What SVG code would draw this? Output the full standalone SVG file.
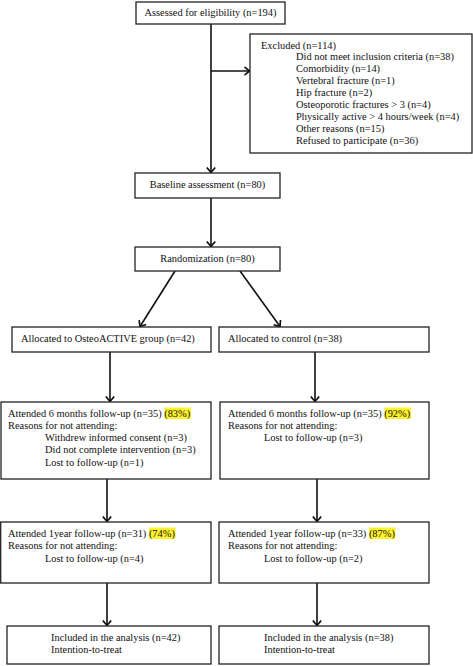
<svg xmlns="http://www.w3.org/2000/svg" width="473" height="666" viewBox="0 0 473 666">
<defs>
<marker id="arr" markerUnits="userSpaceOnUse" markerWidth="12" markerHeight="12" viewBox="-6 -6 12 12" refX="0" refY="0" orient="auto">
<path d="M-5,-4.2 L0,0 L-5,4.2" fill="none" stroke="#111" stroke-width="1.7"/>
</marker>
</defs>
<style>
.box{fill:#fff;stroke:#222;stroke-width:1.3}
.t{font-family:"Liberation Serif","Times New Roman",serif;font-size:10.4px;fill:#111}
.m{text-anchor:middle}
.hl{fill:#fff22e}
.c{fill:none;stroke:#111;stroke-width:1.6;marker-end:url(#arr)}
</style>
<rect width="473" height="666" fill="#fff"/>
<g id="connectors">
<line class="c" x1="211" y1="24" x2="211" y2="172.5"/>
<line class="c" x1="211" y1="71" x2="249.5" y2="71"/>
<line class="c" x1="211" y1="198" x2="211" y2="246.5"/>
<line class="c" x1="175" y1="271" x2="140" y2="326.5"/>
<line class="c" x1="240" y1="271" x2="280" y2="326.5"/>
<line class="c" x1="110" y1="352" x2="110" y2="401.5"/>
<line class="c" x1="315" y1="352" x2="315" y2="401.5"/>
<line class="c" x1="107" y1="479" x2="107" y2="521.5"/>
<line class="c" x1="317" y1="479" x2="317" y2="521.5"/>
<line class="c" x1="107" y1="583" x2="107" y2="625.5"/>
<line class="c" x1="317" y1="583" x2="317" y2="625.5"/>
</g>
<g id="assessed">
<rect class="box" x="136" y="2" width="149" height="22"/>
<text class="t m" x="210.5" y="16">Assessed for eligibility (n=194)</text>
</g>
<g id="excluded">
<rect class="box" x="250" y="34" width="222" height="119"/>
<text class="t" x="261" y="48.5">Excluded (n=114)</text>
<text class="t" x="296" y="59.5">Did not meet inclusion criteria (n=38)</text>
<text class="t" x="296" y="71.6">Comorbidity (n=14)</text>
<text class="t" x="296" y="83.7">Vertebral fracture (n=1)</text>
<text class="t" x="296" y="95.8">Hip fracture (n=2)</text>
<text class="t" x="296" y="107.9">Osteoporotic fractures &gt; 3 (n=4)</text>
<text class="t" x="296" y="120">Physically active &gt; 4 hours/week (n=4)</text>
<text class="t" x="296" y="132.1">Other reasons (n=15)</text>
<text class="t" x="296" y="144.2">Refused to participate (n=36)</text>
</g>
<g id="baseline">
<rect class="box" x="135" y="173" width="145" height="25"/>
<text class="t m" x="207.5" y="188">Baseline assessment (n=80)</text>
</g>
<g id="randomization">
<rect class="box" x="135" y="247" width="145" height="24"/>
<text class="t m" x="207.5" y="262">Randomization (n=80)</text>
</g>
<g id="alloc-osteo">
<rect class="box" x="12" y="327" width="199" height="25"/>
<text class="t" x="21" y="342">Allocated to OsteoACTIVE group (n=42)</text>
</g>
<g id="alloc-control">
<rect class="box" x="219" y="327" width="210" height="25"/>
<text class="t" x="228" y="342">Allocated to control (n=38)</text>
</g>
<g id="six-osteo">
<rect class="box" x="1" y="402" width="210" height="77"/>
<rect class="hl" x="164.5" y="407.5" width="26.5" height="11.5"/>
<text class="t" x="8" y="416.5">Attended 6 months follow-up (n=35) (83%)</text>
<text class="t" x="8" y="429">Reasons for not attending:</text>
<text class="t" x="45" y="441.2">Withdrew informed consent (n=3)</text>
<text class="t" x="45" y="453.4">Did not complete intervention (n=3)</text>
<text class="t" x="45" y="465.6">Lost to follow-up (n=1)</text>
</g>
<g id="six-control">
<rect class="box" x="220" y="402" width="209" height="77"/>
<rect class="hl" x="384.5" y="407.5" width="26.5" height="11.5"/>
<text class="t" x="228" y="416.5">Attended 6 months follow-up (n=35) (92%)</text>
<text class="t" x="228" y="429">Reasons for not attending:</text>
<text class="t" x="264" y="441.2">Lost to follow-up (n=3)</text>
</g>
<g id="year-osteo">
<rect class="box" x="0.7" y="522" width="210.3" height="61"/>
<rect class="hl" x="149" y="527.5" width="26.5" height="11.5"/>
<text class="t" x="8" y="536.5">Attended 1year follow-up (n=31) (74%)</text>
<text class="t" x="8" y="549">Reasons for not attending:</text>
<text class="t" x="45" y="561.5">Lost to follow-up (n=4)</text>
</g>
<g id="year-control">
<rect class="box" x="219" y="522" width="210" height="61"/>
<rect class="hl" x="369" y="527.5" width="26.5" height="11.5"/>
<text class="t" x="228" y="536.5">Attended 1year follow-up (n=33) (87%)</text>
<text class="t" x="228" y="549">Reasons for not attending:</text>
<text class="t" x="264" y="561.5">Lost to follow-up (n=2)</text>
</g>
<g id="analysis-osteo">
<rect class="box" x="7" y="626" width="204" height="38"/>
<text class="t" x="51" y="640.5">Included in the analysis (n=42)</text>
<text class="t" x="51" y="652.5">Intention-to-treat</text>
</g>
<g id="analysis-control">
<rect class="box" x="219" y="626" width="210" height="38"/>
<text class="t" x="264" y="640.5">Included in the analysis (n=38)</text>
<text class="t" x="264" y="652.5">Intention-to-treat</text>
</g>
</svg>
